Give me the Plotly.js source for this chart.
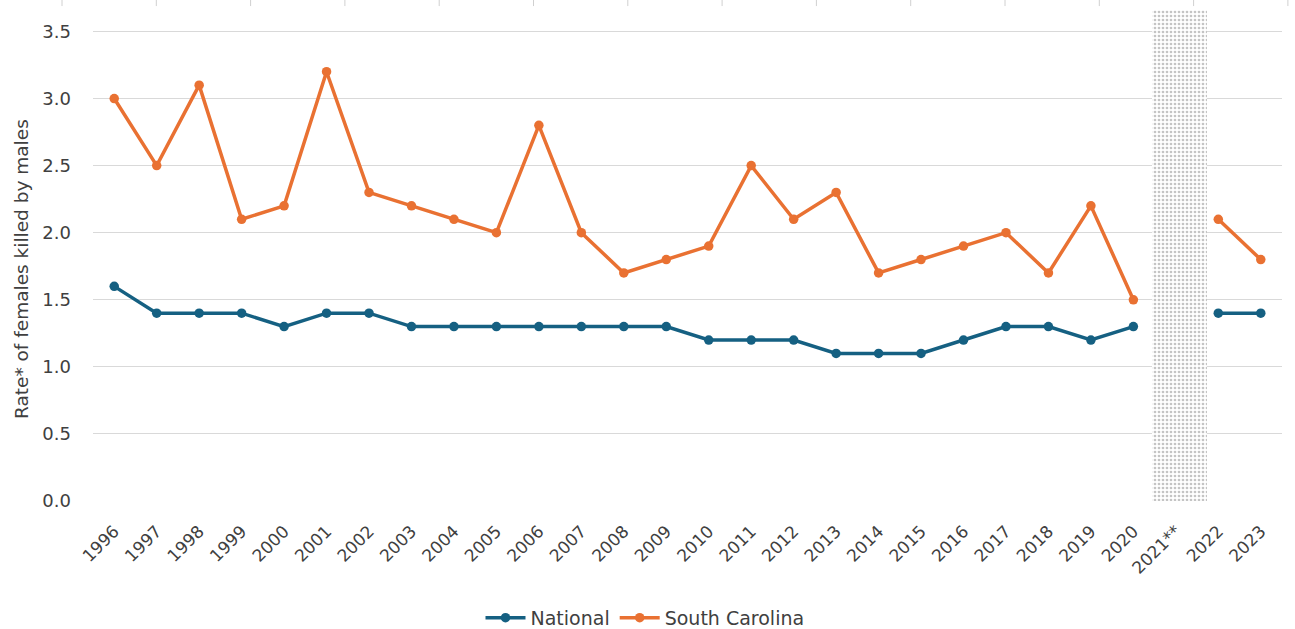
<!DOCTYPE html>
<html>
<head>
<meta charset="utf-8">
<script src="https://cdn.plot.ly/plotly-3.0.1.min.js"></script>
<style>html,body{margin:0;padding:0;background:#fff;}#chart{width:1295px;height:629px;}</style>
</head>
<body>
<div id="chart"></div>
<script>
const years = ["1996","1997","1998","1999","2000","2001","2002","2003","2004","2005","2006","2007","2008","2009","2010","2011","2012","2013","2014","2015","2016","2017","2018","2019","2020","2021**","2022","2023"];
const national = [1.6,1.4,1.4,1.4,1.3,1.4,1.4,1.3,1.3,1.3,1.3,1.3,1.3,1.3,1.2,1.2,1.2,1.1,1.1,1.1,1.2,1.3,1.3,1.2,1.3,null,1.4,1.4];
const southCarolina = [3.0,2.5,3.1,2.1,2.2,3.2,2.3,2.2,2.1,2.0,2.8,2.0,1.7,1.8,1.9,2.5,2.1,2.3,1.7,1.8,1.9,2.0,1.7,2.2,1.5,null,2.1,1.8];
const gapYear = ["2021**"];
const gapBand = [3.66];
const yTickVals = [0, 0.5, 1, 1.5, 2, 2.5, 3, 3.5];
const yTickText = ["0.0","0.5","1.0","1.5","2.0","2.5","3.0","3.5"];

const FONT = "DejaVu Sans, Liberation Sans, Arial, sans-serif";

const traces = [
  {
    type: "bar", x: gapYear, y: gapBand, width: 1.29, offset: -0.55,
    marker: {color: "#ffffff", line: {width: 0},
      pattern: {shape: ".", fgcolor: "#c4c4c4", bgcolor: "#ffffff", size: 4, solidity: 0.35}},
    showlegend: false, hoverinfo: "skip"
  },
  {
    type: "scatter", mode: "lines+markers", name: "National", x: years, y: national,
    line: {color: "#156082", width: 3.5}, marker: {color: "#156082", size: 9.5},
    connectgaps: false
  },
  {
    type: "scatter", mode: "lines+markers", name: "South Carolina", x: years, y: southCarolina,
    line: {color: "#E97132", width: 3.5}, marker: {color: "#E97132", size: 9.5},
    connectgaps: false
  }
];

// small decorative tick marks along the very top edge
const shapes = [];
for (let i = 0; i < 14; i++) {
  const px = 62 + i * 94.3;
  const xp = (px - 93) / 1189;
  shapes.push({type: "line", xref: "paper", yref: "paper", x0: xp, x1: xp, y0: 1.0204, y1: 1.008,
    line: {color: "#d0d0d0", width: 1}});
}

const layout = {
  width: 1295, height: 629,
  margin: {l: 93, r: 13, t: 10, b: 128, autoexpand: false},
  paper_bgcolor: "#ffffff", plot_bgcolor: "#ffffff",
  showlegend: true,
  legend: {orientation: "h", x: (645 - 93) / 1189, xanchor: "center", y: -0.238, yanchor: "middle",
    itemwidth: 40,
    font: {family: FONT, size: 19, color: "#404040"}, traceorder: "normal"},
  bargap: 0,
  xaxis: {
    type: "category", categoryorder: "array", categoryarray: years,
    tickangle: -45, tickfont: {family: FONT, size: 17, color: "#404040"},
    showgrid: false, zeroline: false, automargin: false,
    showline: false, ticks: "", ticklabelstandoff: 16, range: [-0.5, 27.5], fixedrange: true
  },
  yaxis: {
    range: [0, 3.66], tickvals: yTickVals, ticktext: yTickText, automargin: false,
    tickfont: {family: FONT, size: 18, color: "#404040"}, showgrid: true, gridcolor: "#d9d9d9", gridwidth: 1,
    zeroline: false, showline: false, ticks: "", ticklabelstandoff: 21
  },
  annotations: [{
    text: "Rate* of females killed by males", textangle: -90, showarrow: false,
    xref: "paper", yref: "paper", x: (21 - 93) / 1189, y: (501 - 269) / 491,
    xanchor: "center", yanchor: "middle",
    font: {family: FONT, size: 18.5, color: "#404040"}
  }],
  shapes: shapes
};

Plotly.newPlot("chart", traces, layout, {displayModeBar: false, staticPlot: true});
</script>
</body>
</html>
